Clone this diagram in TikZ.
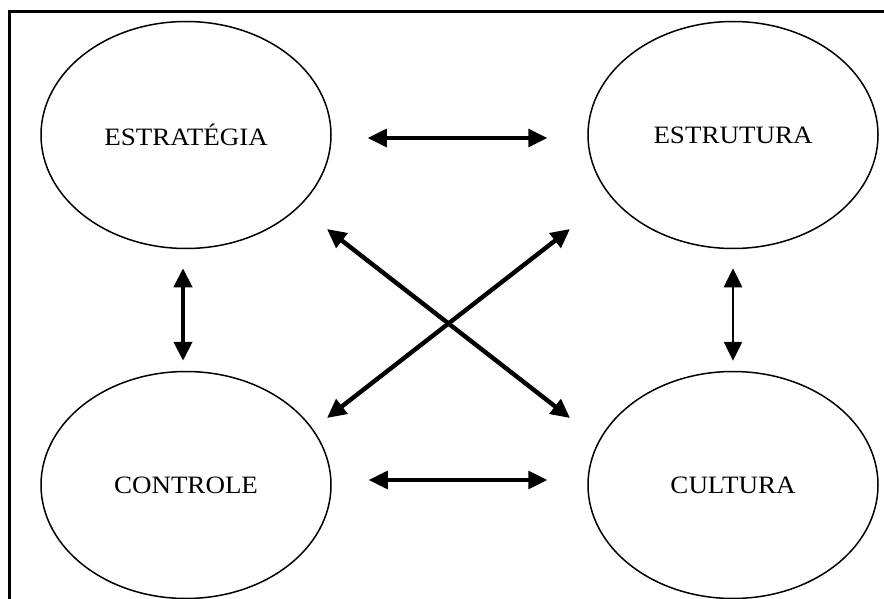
\documentclass[tikz,border=0pt]{standalone}
\usepackage{fontspec}
\usepackage{graphicx}
\setmainfont{Liberation Serif}
\usetikzlibrary{arrows.meta,shapes.geometric}
\newcommand\stretchtxt[1]{\scalebox{1.08}[1]{#1}}
\begin{document}
\begin{tikzpicture}[x=1pt,y=-1pt,
  oval/.style={ellipse,draw=black,line width=1.5pt,minimum width=290pt,minimum height=227pt,inner sep=0pt,font=\fontsize{25}{29}\selectfont},
  link/.style={{Triangle[length=19pt,width=18pt]}-{Triangle[length=19pt,width=18pt]},line width=3.2pt}]
\useasboundingbox (0,0) rectangle (884,599);
\draw[line width=3pt] (9,599) -- (9,12) -- (884,12);

\node[oval] (es) at (186,135) {\stretchtxt{ESTRATÉGIA}};
\node[oval] (et) at (733,135) {\stretchtxt{ESTRUTURA}};
\node[oval] (co) at (186,485) {\stretchtxt{CONTROLE}};
\node[oval] (cu) at (733,485) {\stretchtxt{CULTURA}};

\coordinate (d1a) at (327,229);
\coordinate (d1b) at (570,418);
\coordinate (d2a) at (327,418);
\coordinate (d2b) at (570,229);

\draw[link,shorten <=36pt,shorten >=40pt] ([yshift=-3pt]es.east) -- ([yshift=-3pt]et.west);
\draw[link,shorten <=37pt,shorten >=40pt] ([yshift=5pt]co.east) -- ([yshift=5pt]cu.west);
\draw[link,line width=4.2pt,shorten <=19pt,shorten >=10pt] ([xshift=-3pt]es.south) -- ([xshift=-3pt]co.north);
\draw[link,line width=2.6pt,shorten <=19pt,shorten >=10pt] (et.south) -- (cu.north);
\draw[link,line width=4.4pt] (d1a) -- (d1b);
\draw[link,line width=4.4pt] (d2a) -- (d2b);
\end{tikzpicture}
\end{document}
